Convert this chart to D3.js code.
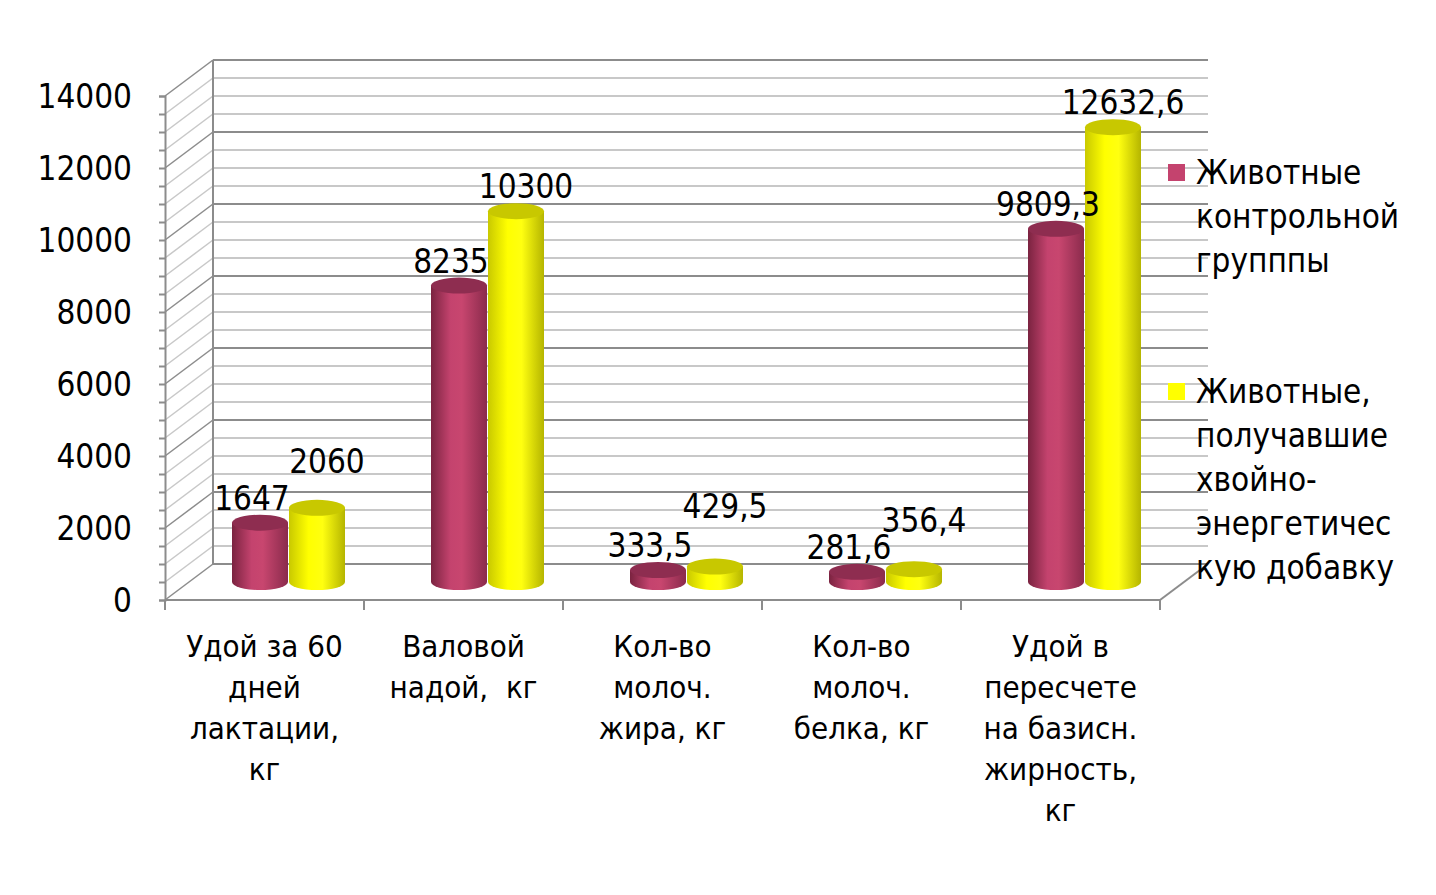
<!DOCTYPE html>
<html><head><meta charset="utf-8">
<script src="https://cdn.jsdelivr.net/npm/d3@7"></script>
<style>body{margin:0;background:#fff}text{font-family:"DejaVu Sans Condensed","DejaVu Sans",sans-serif;white-space:pre}</style>
</head><body><div id="chart"></div>
<script>
const categories = [
  ["Удой за 60", "дней", "лактации,", "кг"],
  ["Валовой", "надой,  кг"],
  ["Кол-во", "молоч.", "жира, кг"],
  ["Кол-во", "молоч.", "белка, кг"],
  ["Удой в", "пересчете", "на базисн.", "жирность,", "кг"]
];
const controlValues = [1647, 8235, 333.5, 281.6, 9809.3];
const treatedValues = [2060, 10300, 429.5, 356.4, 12632.6];
const controlLabels = ["1647", "8235", "333,5", "281,6", "9809,3"];
const treatedLabels = ["2060", "10300", "429,5", "356,4", "12632,6"];
const yTicks = [0, 2000, 4000, 6000, 8000, 10000, 12000, 14000];
const legendControl = ["Животные", "контрольной", "групппы"];
const legendTreated = ["Животные,", "получавшие", "хвойно-", "энергетичес", "кую добавку"];

const W = 1436, H = 895;
const svg = d3.select("#chart").append("svg").attr("width", W).attr("height", H);
const defs = svg.append("defs");

const left = 165, right = 1160, y0 = 600, dx = 48, dy = -36;
const y = d3.scaleLinear().domain([0, 14000]).range([y0, 96]);
const x = d3.scaleBand().domain(d3.range(categories.length)).range([left, right]);

// gradients
function grad(id, stops) {
  const g = defs.append("linearGradient").attr("id", id).attr("x1", "0%").attr("x2", "100%");
  stops.forEach(([o, c]) => g.append("stop").attr("offset", o).attr("stop-color", c));
}
grad("gRed", [["0%", "#7a2340"], ["35%", "#c4436e"], ["55%", "#c8466f"], ["100%", "#8a2b4c"]]);
grad("gYel", [["0%", "#c9c900"], ["35%", "#ffff00"], ["60%", "#ffff10"], ["100%", "#b5b500"]]);

// back wall and side wall gridlines
const minor = d3.range(0, 14001, 500);
minor.forEach(v => {
  const major = v % 2000 === 0;
  const col = major ? "#8c8c8c" : "#c8c8c8";
  svg.append("line").attr("x1", left + dx).attr("x2", right + dx)
    .attr("y1", y(v) + dy).attr("y2", y(v) + dy).attr("stroke", col).attr("stroke-width", 2);
  svg.append("line").attr("x1", left).attr("x2", left + dx)
    .attr("y1", y(v)).attr("y2", y(v) + dy).attr("stroke", col).attr("stroke-width", 1.5);
});
// floor
svg.append("line").attr("x1", right).attr("y1", y0).attr("x2", right + dx).attr("y2", y0 + dy)
  .attr("stroke", "#8c8c8c").attr("stroke-width", 2);
svg.append("line").attr("x1", left + dx).attr("y1", y(14000) + dy).attr("x2", left + dx).attr("y2", y0 + dy)
  .attr("stroke", "#8c8c8c").attr("stroke-width", 2);

// front axes
const yAxis = d3.axisLeft(y).tickValues(minor).tickSize(6).tickFormat(d => yTicks.includes(d) ? d : "");
const gy = svg.append("g").attr("transform", `translate(${left},0)`).call(yAxis);
gy.selectAll("line").attr("stroke", "#8c8c8c").attr("stroke-width", 2);
gy.select(".domain").attr("stroke", "#8c8c8c").attr("stroke-width", 2);
gy.selectAll("text").attr("font-size", 33).attr("fill", "#000").attr("dy", "0.35em").attr("x", -33);

const gx = svg.append("g");
gx.append("line").attr("x1", left).attr("x2", right).attr("y1", y0).attr("y2", y0)
  .attr("stroke", "#8c8c8c").attr("stroke-width", 2);
d3.range(categories.length + 1).forEach(i => {
  const xx = i < categories.length ? x(i) : right;
  gx.append("line").attr("x1", xx).attr("x2", xx).attr("y1", y0).attr("y2", y0 + 10)
    .attr("stroke", "#8c8c8c").attr("stroke-width", 2);
});
categories.forEach((lines, i) => {
  lines.forEach((t, j) => {
    svg.append("text").attr("x", x(i) + x.bandwidth() / 2).attr("y", 657 + j * 41)
      .attr("text-anchor", "middle").attr("font-size", 31).text(t);
  });
});

// cylinders at mid depth
const bw = 56, rx = bw / 2, ry = 8, midOff = 24, base = y0 - 18;
function cyl(cx, v, fill, topCol) {
  const top = base - (y0 - y(v));
  const g = svg.append("g");
  g.append("path").attr("fill", `url(#${fill})`)
    .attr("d", `M${cx - rx},${top} L${cx - rx},${base} A${rx},${ry} 0 0 0 ${cx + rx},${base} L${cx + rx},${top} Z`);
  g.append("ellipse").attr("cx", cx).attr("cy", top).attr("rx", rx).attr("ry", ry).attr("fill", topCol);
  return top;
}
categories.forEach((c, i) => {
  const x0 = x(i) + midOff + 43;
  const cr = x0 + rx, cyy = x0 + bw + 1 + rx;
  const t1 = cyl(cr, controlValues[i], "gRed", "#8e2d50");
  const t2 = cyl(cyy, treatedValues[i], "gYel", "#c8c800");
  svg.append("text").attr("x", cr - 8).attr("y", Math.min(t1 - 13, 560))
    .attr("text-anchor", "middle").attr("font-size", 33).text(controlLabels[i]);
  svg.append("text").attr("x", cyy + 10).attr("y", Math.min(t2 - 13, i === 0 ? 473 : (i === 2 ? 518 : 532)))
    .attr("text-anchor", "middle").attr("font-size", 33).text(treatedLabels[i]);
});

// legend
function legend(lines, y1, col) {
  svg.append("rect").attr("x", 1168).attr("y", y1 - 20).attr("width", 17).attr("height", 17).attr("fill", col);
  lines.forEach((t, j) => svg.append("text").attr("x", 1196).attr("y", y1 + j * 44)
    .attr("font-size", 33).text(t));
}
legend(legendControl, 184, "#c4436e");
legend(legendTreated, 403, "#ffff00");
</script></body></html>
